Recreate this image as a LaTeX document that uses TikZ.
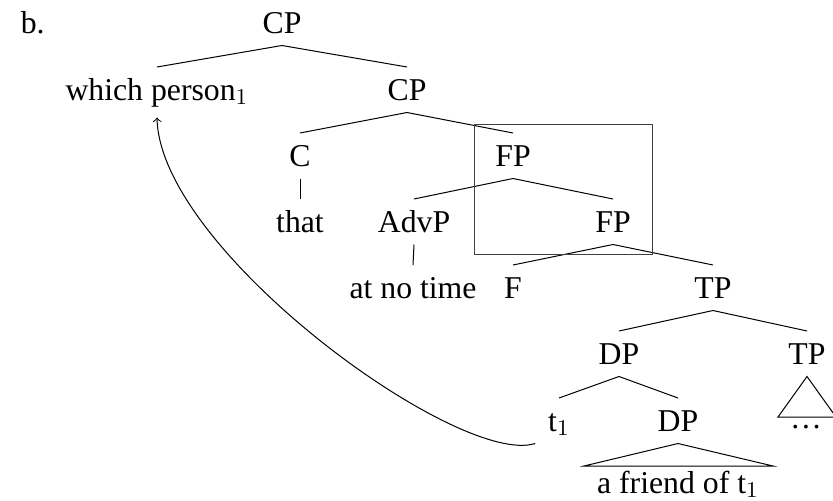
\documentclass[tikz,border=0pt]{standalone}
\usepackage{fontspec}
\setmainfont{Liberation Serif}
\usetikzlibrary{positioning}
\tikzstyle{cat} = [inner xsep=1pt, inner ysep=2pt, text height=11pt, text depth=2.8pt, anchor=base]
\tikzstyle{branch} = [thin]
\tikzstyle{move} = [thin,->]
\tikzstyle{frame} = [draw=black!75, thin]

\begin{document}
\begin{tikzpicture}[x=0.4pt, y=-0.4pt, font=\fontsize{12.7}{15}\selectfont]
\useasboundingbox (0,0) rectangle (833,500);
\node (lbl) [anchor=base west] at (12,33) {b.};
\node (cp) [cat] at (282,33) {CP};
\node (wp) [cat] at (157,100) {which person$_1$};
\node (cpb) [cat] at (407,100) {CP};
\node (c) [cat] at (300,166) {C};
\node (fp) [cat] at (513,166) {FP};
\node (that) [cat] at (300,232) {that};
\node (advp) [cat] at (414,232) {AdvP};
\node (fpb) [cat] at (613,232) {FP};
\node (ant) [cat] at (413,298) {at no time};
\node (f) [cat] at (513,298) {F};
\node (tp) [cat] at (713,298) {TP};
\node (dp) [cat] at (619,364) {DP};
\node (tpb) [cat] at (807,364) {TP};
\node (tr) [cat] at (559,431) {t$_1$};
\node (dpb) [cat] at (678,431) {DP};
\node (dots) [cat] at (806,428) {\dots};
\node (fr) [cat] at (678,493) {a friend of t$_1$};
\coordinate (frl) at (584,466);
\coordinate (frr) at (773,466);
\coordinate (dtl) at (778,417);
\coordinate (dtr) at (836,417);

% branches
\draw [branch] (cp.south) -- (wp.north);
\draw [branch] (cp.south) -- (cpb.north);
\draw [branch] (cpb.south) -- (c.north);
\draw [branch] (cpb.south) -- (fp.north);
\draw [branch] (c.south) -- (that.north);
\draw [branch] (fp.south) -- (advp.north);
\draw [branch] (fp.south) -- (fpb.north);
\draw [branch] (advp.south) -- (ant.north);
\draw [branch] (fpb.south) -- (f.north);
\draw [branch] (fpb.south) -- (tp.north);
\draw [branch] (tp.south) -- (dp.north);
\draw [branch] (tp.south) -- (tpb.north);
\draw [branch] (dp.south) -- (tr.north);
\draw [branch] (dp.south) -- (dpb.north);
% roofs
\draw [branch] (tpb.south) -- (dtl) -- (dtr) -- cycle;
\draw [branch] (dpb.south) -- (frl) -- (frr) -- cycle;

\draw [frame] (474,124) rectangle (652,254);
\draw [move] ([xshift=-4pt]tr.south west) .. controls +(-76,24) and +(3,133) .. ([yshift=-2pt]wp.south);
\end{tikzpicture}
\end{document}
